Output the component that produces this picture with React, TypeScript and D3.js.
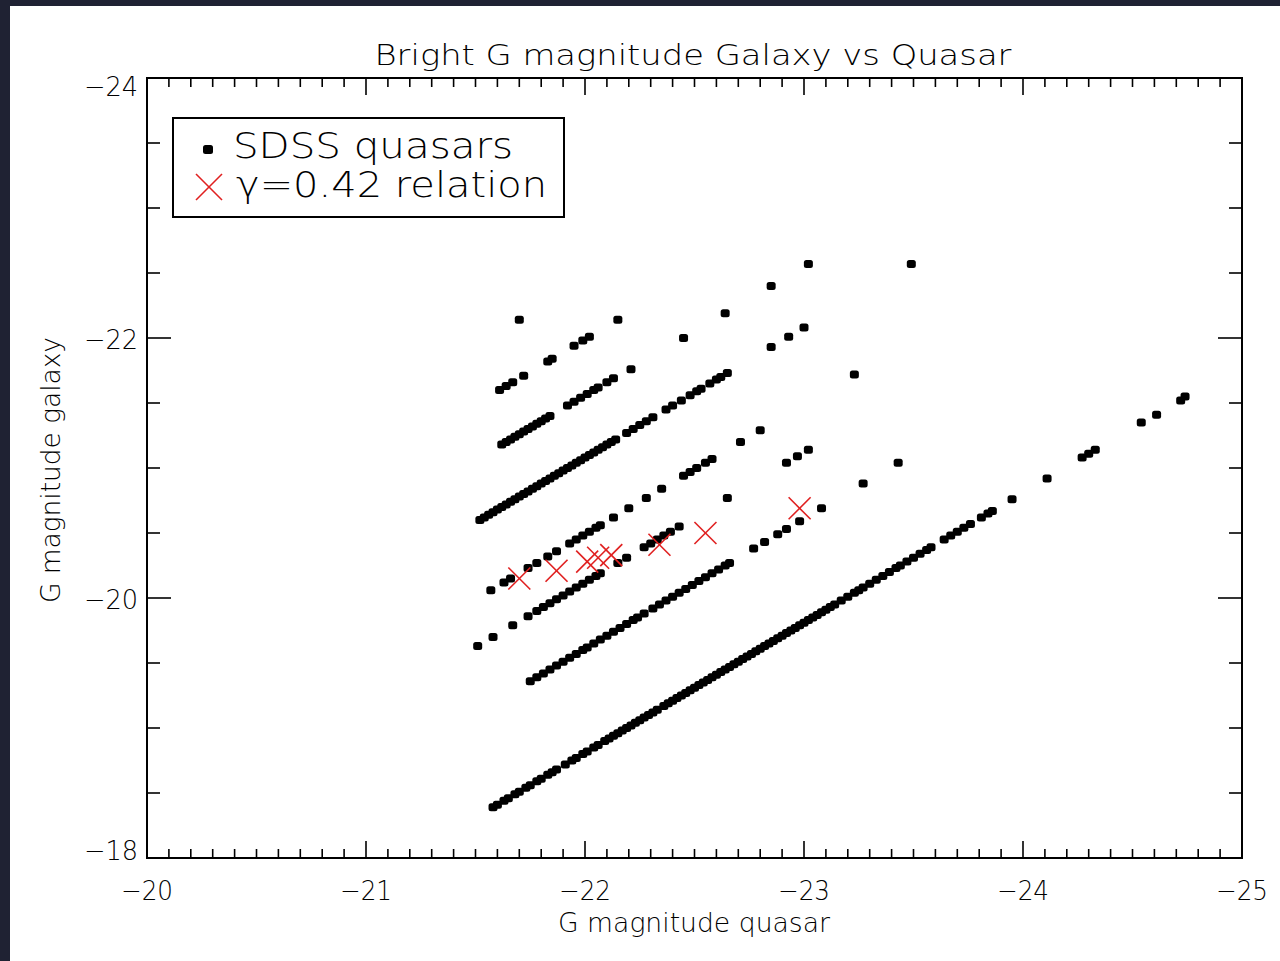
import React from "react";
import * as d3 from "d3";

// ---- Data ----
// SDSS quasars: [G magnitude quasar, G magnitude galaxy]
const lineA: [number, number][] = [
  [-21.61, -21.6], [-21.64, -21.63], [-21.67, -21.66], [-21.72, -21.71], [-21.83, -21.82],
  [-21.85, -21.84], [-21.95, -21.94], [-21.99, -21.98], [-22.02, -22.01], [-22.15, -22.14],
];
const isolated: [number, number][] = [[-21.7, -22.14]];
const lineB: [number, number][] = [
  [-21.62, -21.18], [-21.64, -21.2], [-21.66, -21.22], [-21.68, -21.24], [-21.7, -21.26],
  [-21.72, -21.28], [-21.74, -21.3], [-21.76, -21.32], [-21.78, -21.34], [-21.8, -21.36],
  [-21.82, -21.38], [-21.84, -21.4], [-21.92, -21.48], [-21.95, -21.51], [-21.98, -21.54],
  [-22.01, -21.57], [-22.04, -21.6], [-22.06, -21.62], [-22.1, -21.66], [-22.13, -21.69],
  [-22.21, -21.76], [-22.45, -22.0], [-22.64, -22.19], [-22.85, -22.4], [-23.02, -22.57],
];
const lineC: [number, number][] = [
  [-21.52, -20.6], [-21.54, -20.62], [-21.56, -20.64], [-21.58, -20.66], [-21.6, -20.68],
  [-21.62, -20.7], [-21.64, -20.72], [-21.66, -20.74], [-21.68, -20.76], [-21.7, -20.78],
  [-21.72, -20.8], [-21.74, -20.82], [-21.76, -20.84], [-21.78, -20.86], [-21.8, -20.88],
  [-21.82, -20.9], [-21.84, -20.92], [-21.86, -20.94], [-21.88, -20.96], [-21.9, -20.98],
  [-21.92, -21.0], [-21.94, -21.02], [-21.96, -21.04], [-21.98, -21.06], [-22.0, -21.08],
  [-22.02, -21.1], [-22.04, -21.12], [-22.06, -21.14], [-22.08, -21.16], [-22.1, -21.18],
  [-22.12, -21.2], [-22.14, -21.22], [-22.19, -21.27], [-22.22, -21.3], [-22.25, -21.33],
  [-22.28, -21.36], [-22.31, -21.39], [-22.37, -21.45], [-22.4, -21.48], [-22.44, -21.52],
  [-22.48, -21.56], [-22.51, -21.59], [-22.53, -21.61], [-22.57, -21.65], [-22.6, -21.68],
  [-22.62, -21.7], [-22.65, -21.73], [-22.85, -21.93], [-22.93, -22.01], [-23.0, -22.08],
  [-23.49, -22.57],
];
const lineD: [number, number][] = [
  [-21.57, -20.06], [-21.63, -20.12], [-21.66, -20.15], [-21.74, -20.23], [-21.78, -20.27],
  [-21.83, -20.32], [-21.87, -20.36], [-21.93, -20.42], [-21.96, -20.45], [-21.99, -20.48],
  [-22.02, -20.51], [-22.05, -20.54], [-22.07, -20.56], [-22.13, -20.62], [-22.2, -20.69],
  [-22.28, -20.77], [-22.35, -20.84], [-22.45, -20.94], [-22.48, -20.97], [-22.51, -21.0],
  [-22.55, -21.04], [-22.58, -21.07], [-22.71, -21.2], [-22.8, -21.29], [-23.23, -21.72],
];
const lineE: [number, number][] = [
  [-21.51, -19.63], [-21.58, -19.7], [-21.67, -19.79], [-21.74, -19.86], [-21.78, -19.9],
  [-21.81, -19.93], [-21.84, -19.96], [-21.87, -19.99], [-21.9, -20.02], [-21.93, -20.05],
  [-21.96, -20.08], [-21.99, -20.11], [-22.02, -20.14], [-22.05, -20.17], [-22.07, -20.19],
  [-22.15, -20.27], [-22.19, -20.31], [-22.27, -20.39], [-22.3, -20.42], [-22.33, -20.45],
  [-22.36, -20.48], [-22.39, -20.51], [-22.43, -20.55], [-22.65, -20.77], [-22.92, -21.04],
  [-22.97, -21.09], [-23.02, -21.14],
];
const lineF: [number, number][] = [
  [-21.75, -19.36], [-21.78, -19.39], [-21.81, -19.42], [-21.84, -19.45], [-21.87, -19.48],
  [-21.9, -19.51], [-21.93, -19.54], [-21.96, -19.57], [-21.99, -19.6], [-22.01, -19.62],
  [-22.04, -19.65], [-22.07, -19.68], [-22.1, -19.71], [-22.13, -19.74], [-22.16, -19.77],
  [-22.19, -19.8], [-22.22, -19.83], [-22.24, -19.85], [-22.27, -19.88], [-22.31, -19.92],
  [-22.34, -19.95], [-22.37, -19.98], [-22.4, -20.01], [-22.43, -20.04], [-22.46, -20.07],
  [-22.49, -20.1], [-22.52, -20.13], [-22.55, -20.16], [-22.58, -20.19], [-22.61, -20.22],
  [-22.64, -20.25], [-22.66, -20.27], [-22.77, -20.38], [-22.82, -20.43], [-22.88, -20.49],
  [-22.92, -20.53], [-22.98, -20.59], [-23.08, -20.69], [-23.27, -20.88], [-23.43, -21.04],
];
const lineG: [number, number][] = [
  [-21.58, -18.39], [-21.6, -18.41], [-21.63, -18.44], [-21.65, -18.46], [-21.68, -18.49],
  [-21.7, -18.51], [-21.73, -18.54], [-21.75, -18.56], [-21.78, -18.59], [-21.8, -18.61],
  [-21.83, -18.64], [-21.85, -18.66], [-21.87, -18.68],
  [-21.91, -18.72], [-21.94, -18.75], [-21.96, -18.77], [-21.99, -18.8], [-22.01, -18.82],
  [-22.04, -18.85], [-22.06, -18.87], [-22.09, -18.9], [-22.11, -18.92],
  [-22.13, -18.94], [-22.15, -18.96], [-22.17, -18.98], [-22.19, -19.0], [-22.21, -19.02],
  [-22.23, -19.04], [-22.25, -19.06], [-22.27, -19.08], [-22.29, -19.1], [-22.31, -19.12],
  [-22.33, -19.14],
  [-22.36, -19.17], [-22.38, -19.19], [-22.4, -19.21], [-22.42, -19.23], [-22.44, -19.25],
  [-22.46, -19.27], [-22.48, -19.29], [-22.5, -19.31], [-22.52, -19.33], [-22.54, -19.35],
  [-22.56, -19.37], [-22.58, -19.39], [-22.6, -19.41], [-22.62, -19.43], [-22.64, -19.45],
  [-22.66, -19.47], [-22.68, -19.49], [-22.7, -19.51], [-22.72, -19.53], [-22.74, -19.55],
  [-22.76, -19.57], [-22.78, -19.59], [-22.8, -19.61], [-22.82, -19.63], [-22.84, -19.65],
  [-22.86, -19.67], [-22.88, -19.69], [-22.9, -19.71], [-22.92, -19.73], [-22.94, -19.75],
  [-22.96, -19.77], [-22.98, -19.79], [-23.0, -19.81], [-23.02, -19.83], [-23.04, -19.85],
  [-23.06, -19.87], [-23.08, -19.89], [-23.1, -19.91], [-23.12, -19.93],
  [-23.14, -19.95], [-23.17, -19.98], [-23.2, -20.01], [-23.23, -20.04], [-23.25, -20.06],
  [-23.27, -20.08],
  [-23.3, -20.11], [-23.33, -20.14], [-23.36, -20.17], [-23.39, -20.2], [-23.42, -20.23],
  [-23.44, -20.25], [-23.47, -20.28], [-23.5, -20.31], [-23.53, -20.34], [-23.56, -20.37],
  [-23.58, -20.39],
  [-23.64, -20.45], [-23.67, -20.48], [-23.7, -20.51], [-23.73, -20.54], [-23.76, -20.57],
  [-23.81, -20.62], [-23.84, -20.65], [-23.86, -20.67],
  [-23.95, -20.76], [-24.11, -20.92], [-24.27, -21.08], [-24.3, -21.11], [-24.33, -21.14],
  [-24.54, -21.35], [-24.61, -21.41], [-24.72, -21.52], [-24.74, -21.55],
];
const quasars = [...lineA, ...isolated, ...lineB, ...lineC, ...lineD, ...lineE, ...lineF, ...lineG];

// gamma = 0.42 relation (red crosses)
const relation: [number, number][] = [
  [-21.7, -20.15], [-21.87, -20.21], [-22.01, -20.28], [-22.06, -20.31], [-22.12, -20.33],
  [-22.34, -20.41], [-22.55, -20.5], [-22.98, -20.69],
];

const xMajor = [-20, -21, -22, -23, -24, -25];
const yMajor = [-24, -22, -20, -18];
const xMinor = d3.range(0, 51).map((i) => -20 - i * 0.1);
const yMinor = d3.range(0, 13).map((i) => -24 + i * 0.5);

const TITLE = "Bright G magnitude Galaxy vs Quasar";
const XLABEL = "G magnitude quasar";
const YLABEL = "G magnitude galaxy";
const LEGEND = ["SDSS quasars", "\u03b3=0.42 relation"];

export default function App() {
  const L = 147, R = 1242, T = 78, B = 858;
  const x = d3.scaleLinear().domain([-20, -25]).range([L, R]);
  const y = d3.scaleLinear().domain([-24, -18]).range([T, B]);
  const font = "'DejaVu Sans', sans-serif";
  const red = "#e02020";
  const cross = (cx: number, cy: number, h: number, k: string, w = 1.6) => (
    <g key={k} stroke={red} strokeWidth={w}>
      <line x1={cx - h} y1={cy - h} x2={cx + h} y2={cy + h} />
      <line x1={cx - h} y1={cy + h} x2={cx + h} y2={cy - h} />
    </g>
  );
  const isMajorX = (v: number) => Math.abs(v - Math.round(v)) < 1e-6;
  const isMajorY = (v: number) => Math.abs(v - Math.round(v)) < 1e-6 && Math.round(v) % 2 === 0;
  const yLabelOffset = (v: number) => (v === -24 ? 18 : v === -18 ? 2 : 11);

  return (
    <svg width={1280} height={961} style={{ position: "absolute", left: 0, top: 0 }}>
      <rect x={0} y={0} width={1280} height={961} fill="#1f2233" />
      <rect x={10} y={6} width={1270} height={955} fill="#ffffff" />

      <text x={693} y={65} fontFamily={font} fontSize={29} fontWeight={200} textAnchor="middle"
        textLength={637} lengthAdjust="spacingAndGlyphs" fill="#000">{TITLE}</text>

      {/* data */}
      <g fill="#000">
        {quasars.map((d, i) => (
          <rect key={i} x={x(d[0]) - 4.5} y={y(d[1]) - 4} width={9} height={8} rx={2.5} />
        ))}
      </g>
      {relation.map((d, i) => cross(x(d[0]), y(d[1]), 11, "r" + i))}

      {/* axes box */}
      <rect x={L} y={T} width={R - L} height={B - T} fill="none" stroke="#000" strokeWidth={2} />
      <g stroke="#000" strokeWidth={1.6}>
        {xMinor.map((v, i) => {
          const len = isMajorX(v) ? 17 : 9;
          const px = x(v);
          return (
            <g key={"xt" + i}>
              <line x1={px} y1={B} x2={px} y2={B - len} />
              <line x1={px} y1={T} x2={px} y2={T + len} />
            </g>
          );
        })}
        {yMinor.map((v, i) => {
          const len = isMajorY(v) ? 24 : 13;
          const py = y(v);
          return (
            <g key={"yt" + i}>
              <line x1={L} y1={py} x2={L + len} y2={py} />
              <line x1={R} y1={py} x2={R - len} y2={py} />
            </g>
          );
        })}
      </g>

      {/* tick labels */}
      {xMajor.map((v) => (
        <text key={"xl" + v} x={x(v)} y={900} fontFamily={font} fontSize={27} fontWeight={200}
          textAnchor="middle" textLength={52} lengthAdjust="spacingAndGlyphs">{"\u2212" + Math.abs(v)}</text>
      ))}
      {yMajor.map((v) => (
        <text key={"yl" + v} x={138} y={y(v) + yLabelOffset(v)} fontFamily={font} fontSize={27} fontWeight={200}
          textAnchor="end" textLength={54} lengthAdjust="spacingAndGlyphs">{"\u2212" + Math.abs(v)}</text>
      ))}

      <text x={694} y={932} fontFamily={font} fontSize={27} fontWeight={200} textAnchor="middle"
        textLength={272} lengthAdjust="spacingAndGlyphs">{XLABEL}</text>
      <text transform="translate(60,470) rotate(-90)" fontFamily={font} fontSize={27} fontWeight={200}
        textAnchor="middle" textLength={266} lengthAdjust="spacingAndGlyphs">{YLABEL}</text>

      {/* legend */}
      <rect x={173} y={118} width={391} height={99} fill="#fff" stroke="#000" strokeWidth={2} />
      <rect x={203} y={145} width={10} height={9} rx={2.5} fill="#000" />
      <text x={233} y={158} fontFamily={font} fontSize={36} fontWeight={200}
        textLength={280} lengthAdjust="spacingAndGlyphs">{LEGEND[0]}</text>
      {cross(209, 187, 13, "leg", 1.6)}
      <text x={236} y={197} fontFamily={font} fontSize={36} fontWeight={200}
        textLength={311} lengthAdjust="spacingAndGlyphs">{LEGEND[1]}</text>
    </svg>
  );
}
